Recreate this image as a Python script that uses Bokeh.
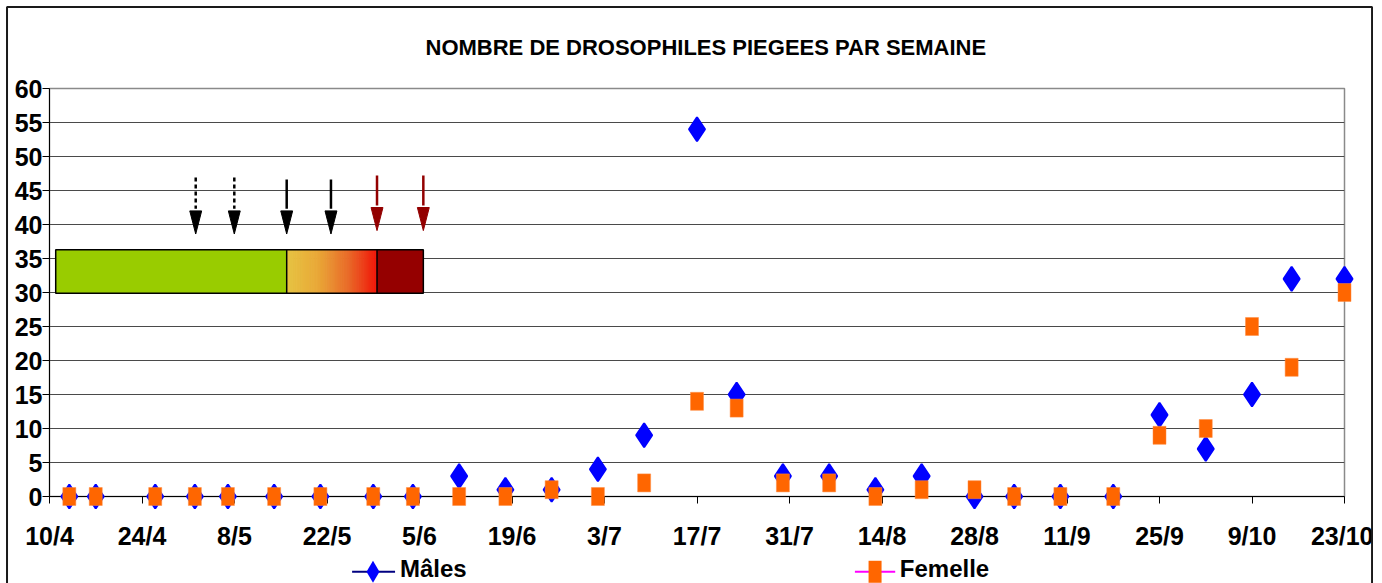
import numpy as np
import pandas as pd
from bokeh.plotting import figure
from bokeh.models import ColumnDataSource, FixedTicker, Range1d
from bokeh.core.properties import value
from bokeh.embed import file_html
from bokeh.resources import INLINE

# ---------------- data ----------------
dates = ["2008-04-13", "2008-04-17", "2008-04-26", "2008-05-02", "2008-05-07",
         "2008-05-14", "2008-05-21", "2008-05-29", "2008-06-04", "2008-06-11",
         "2008-06-18", "2008-06-25", "2008-07-02", "2008-07-09", "2008-07-17",
         "2008-07-23", "2008-07-30", "2008-08-06", "2008-08-13", "2008-08-20",
         "2008-08-28", "2008-09-03", "2008-09-10", "2008-09-18", "2008-09-25",
         "2008-10-02", "2008-10-09", "2008-10-15", "2008-10-23"]
males = [0, 0, 0, 0, 0, 0, 0, 0, 0, 3, 1, 1, 4, 9, 54, 15, 3, 3, 1, 3,
         0, 0, 0, 0, 12, 7, 15, 32, 32]
femelles = [0, 0, 0, 0, 0, 0, 0, 0, 0, 0, 0, 1, 0, 2, 14, 13, 2, 2, 0, 1,
            1, 0, 0, 0, 9, 10, 25, 19, 30]

tick_dates = ["2008-04-10", "2008-04-24", "2008-05-08", "2008-05-22", "2008-06-05",
              "2008-06-19", "2008-07-03", "2008-07-17", "2008-07-31", "2008-08-14",
              "2008-08-28", "2008-09-11", "2008-09-25", "2008-10-09", "2008-10-23"]
tick_labels = ["10/4", "24/4", "8/5", "22/5", "5/6", "19/6", "3/7", "17/7", "31/7",
               "14/8", "28/8", "11/9", "25/9", "9/10", "23/10"]
y_ticks = [0, 5, 10, 15, 20, 25, 30, 35, 40, 45, 50, 55, 60]

title_text = "NOMBRE DE DROSOPHILES PIEGEES PAR SEMAINE"
series_names = ["Mâles", "Femelle"]

# annotation (phase bar and arrows), in days after the first tick date
phase_days = [0.94, 35.9, 49.57, 56.58]
arrows_dashed = [22.13, 27.97]
arrows_solid = [35.9, 42.6]
arrows_red = [49.57, 56.58]
bar_y = [29.9, 36.3]

FONT = "Liberation Sans"
DAY = 86400000.0


def ms(s):
    return pd.Timestamp(s).value / 1e6


start = ms(tick_dates[0])
end = ms(tick_dates[-1])


def day(d):
    return start + d * DAY


p = figure(width=1373, height=583, x_axis_type="datetime",
           x_range=Range1d(start, end), y_range=Range1d(0, 60),
           output_backend="svg", toolbar_location=None,
           min_border_left=49, min_border_right=29,
           min_border_top=88, min_border_bottom=87)

p.background_fill_color = "white"
p.border_fill_color = "white"
p.outline_line_color = "#8a8a8a"
p.outline_line_width = 1.5

# title
p.title.text = title_text
p.title.align = "left"
p.title.offset = 376
p.title.standoff = 58
p.title.text_font = FONT
p.title.text_font_size = "22px"
p.title.text_font_style = "bold"
p.title.text_color = "black"

# axes
p.xaxis.ticker = FixedTicker(ticks=[ms(t) for t in tick_dates])
p.xaxis.major_label_overrides = {ms(t): l for t, l in zip(tick_dates, tick_labels)}
p.yaxis.ticker = FixedTicker(ticks=y_ticks)
for ax in (p.xaxis, p.yaxis):
    ax.axis_line_color = "black"
    ax.axis_line_width = 1
    ax.major_tick_line_color = "black"
    ax.major_tick_in = 0
    ax.major_tick_out = 7
    ax.minor_tick_line_color = None
    ax.major_label_text_font = FONT
    ax.major_label_text_font_size = "25px"
    ax.major_label_text_font_style = "bold"
    ax.major_label_text_color = "black"
p.xaxis.major_label_standoff = 18
p.yaxis.major_label_standoff = 0

p.xgrid.grid_line_color = None
p.ygrid.ticker = FixedTicker(ticks=y_ticks)
p.ygrid.grid_line_color = "#4a4a4a"
p.ygrid.grid_line_width = 1

# phase bar
b0, b1 = bar_y
p.quad(left=[day(phase_days[0])], right=[day(phase_days[1])], bottom=[b0], top=[b1],
       fill_color="#99CC00", line_color=None)
n = 48
edges = np.linspace(day(phase_days[1]), day(phase_days[2]), n + 1)
stops = [(0.0, (230, 196, 66)), (0.35, (233, 168, 56)), (0.7, (233, 104, 40)), (1.0, (240, 22, 10))]


def grad(t):
    for (t0, c0), (t1, c1) in zip(stops[:-1], stops[1:]):
        if t <= t1:
            f = (t - t0) / (t1 - t0)
            return "#%02x%02x%02x" % tuple(int(round(a + (b - a) * f)) for a, b in zip(c0, c1))
    return "#%02x%02x%02x" % stops[-1][1]


gcols = [grad((i + 0.5) / n) for i in range(n)]
p.quad(left=edges[:-1], right=edges[1:], bottom=[b0] * n, top=[b1] * n,
       fill_color=gcols, line_color=gcols, line_width=1)
p.quad(left=[day(phase_days[2])], right=[day(phase_days[3])], bottom=[b0], top=[b1],
       fill_color="#950000", line_color=None)
p.quad(left=[day(phase_days[0])], right=[day(phase_days[3])], bottom=[b0], top=[b1],
       fill_alpha=0, line_color="black", line_width=1.5)
p.segment(x0=[day(phase_days[1]), day(phase_days[2])], y0=[b0, b0],
          x1=[day(phase_days[1]), day(phase_days[2])], y1=[b1, b1],
          line_color="black", line_width=1.5)


# arrows
def draw_arrows(days, color, dash, top, base, tip):
    xs = [day(d) for d in days]
    k = len(xs)
    p.segment(x0=xs, y0=[top] * k, x1=xs, y1=[base + 0.3] * k,
              line_color=color, line_width=2.5, line_dash=dash)
    hw = 0.9 * DAY
    p.patches(xs=[[x - hw, x + hw, x] for x in xs], ys=[[base, base, tip]] * k,
              fill_color=color, line_color=color, line_width=1)


draw_arrows(arrows_dashed, "black", "4 3", 46.9, 42.0, 38.6)
draw_arrows(arrows_solid, "black", "solid", 46.6, 42.0, 38.6)
draw_arrows(arrows_red, "#930000", "solid", 47.2, 42.5, 39.1)

# data marks (overlay level so that marks on the axes are not clipped)
src = ColumnDataSource(dict(x=pd.to_datetime(dates), m=males, f=femelles))
p.scatter("x", "m", source=src, marker="diamond", size=24,
          fill_color="#0000FF", line_color="#0000FF", line_width=2, level="overlay")
p.rect("x", "f", source=src, width=13, height=18, width_units="screen",
       height_units="screen", fill_color="#FF6600", line_color="#FF8A40",
       line_width=0.5, level="overlay")

# legend below the axis (drawn as glyphs so it can run off the bottom edge)
leg_y = -11.07
p.segment(x0=[day(45.8)], y0=[leg_y], x1=[day(52.3)], y1=[leg_y],
          line_color="#000080", line_width=2, level="overlay")
dx, dy = 0.98 * DAY, 1.62
lx = day(48.96)
p.varea(x=[lx - dx, lx, lx + dx], y1=[leg_y, leg_y - dy, leg_y],
        y2=[leg_y, leg_y + dy, leg_y], fill_color="#0000FF", level="overlay")
p.segment(x0=[day(121.9)], y0=[leg_y], x1=[day(128.0)], y1=[leg_y],
          line_color="#FF00FF", line_width=2, level="overlay")
p.rect(x=[day(124.95)], y=[leg_y], width=13, height=22, width_units="screen",
       height_units="screen", fill_color="#FF6600", line_color=None, level="overlay")
p.text(x=[day(53.05), day(128.7)], y=[-10.63, -10.63], text=series_names,
       text_font=value(FONT), text_font_size="24px", text_font_style="bold",
       text_color="black", text_baseline="middle", text_align="left",
       level="overlay")

# outer chart frame
p.quad(left=[day(-6.43)], right=[day(200.17)], top=[71.97], bottom=[-30],
       fill_alpha=0, line_color="#1a1a1a", line_width=2, level="overlay")

open("out.html", "w").write(file_html(p, INLINE))
